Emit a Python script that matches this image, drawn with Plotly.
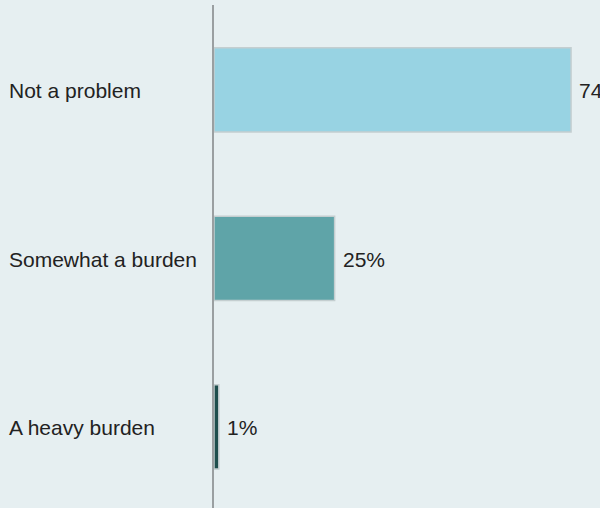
import plotly.graph_objects as go

categories = ["Not a problem", "Somewhat a burden", "A heavy burden"]
values = [74, 25, 1]
labels = ["74%", "25%", "1%"]
colors = ["#98D3E3", "#5FA4A8", "#1E4E4D"]

W, H = 600, 508
ML, MT = 214, 5
pos = list(range(len(categories)))

fig = go.Figure()
fig.add_trace(go.Bar(
    x=values, y=pos, orientation="h",
    marker=dict(color=colors, line=dict(color="#C4CED0", width=1.5)),
    width=0.5, hoverinfo="skip",
))

ann = []
for p, v, t in zip(pos, values, labels):
    ann.append(dict(x=v, y=p, xref="x", yref="y", text=t, showarrow=False,
                    xanchor="left", yanchor="middle", xshift=6, yshift=-1,
                    font=dict(family="Liberation Sans, Arial", size=21, color="#222222")))
for p, c in zip(pos, categories):
    ann.append(dict(x=-(ML - 7) / (W - ML), y=p, xref="paper", yref="y", text=c,
                    showarrow=False, xanchor="left", yanchor="middle", yshift=-1,
                    font=dict(family="Liberation Sans, Arial", size=21, color="#222222")))

fig.update_layout(
    width=W, height=H,
    margin=dict(l=ML, r=0, t=MT, b=0, pad=0),
    paper_bgcolor="#E6EFF1", plot_bgcolor="#E6EFF1",
    showlegend=False,
    xaxis=dict(range=[0, 80], visible=False, fixedrange=True),
    yaxis=dict(range=[2.481, -0.504], showticklabels=False, showgrid=False,
               zeroline=False, showline=True, linecolor="#9A9FA1", linewidth=1.5,
               ticks=""),
    annotations=ann,
)

fig.write_html("out.html", config={"displayModeBar": False})
